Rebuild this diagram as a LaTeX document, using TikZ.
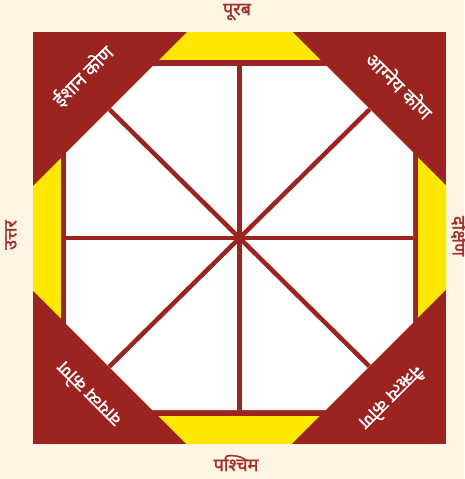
\documentclass[tikz,border=0pt]{standalone}
\usepackage{fontspec}
\newfontfamily\deva[Script=Devanagari]{Noto Sans}
\newfontfamily\devab[Script=Devanagari, FakeBold=1.6]{Noto Sans}
\newfontfamily\devam[Script=Devanagari, FakeBold=0.6]{Noto Sans}
\definecolor{vred}{HTML}{9C2420}
\definecolor{vyel}{HTML}{FFE800}
\definecolor{bgc}{HTML}{FDF4E4}
\definecolor{lbl}{HTML}{A0302B}
\tikzset{
  dirlabel/.style={text=lbl, font=\devab\fontsize{18}{18}\selectfont, inner sep=0pt},
  cornerlabel/.style={text=white, font=\devam\fontsize{19}{19}\selectfont, inner sep=0pt},
  spoke/.style={draw=vred, line width=4.5pt},
}
\begin{document}
\begin{tikzpicture}[x=1pt,y=-1pt]
\useasboundingbox (0,0) rectangle (464,479);
\fill[bgc] (0,0) rectangle (464,479);
\fill[vred] (33,32) rectangle (446,444);
\fill[vyel] (187,32) -- (292.5,32) -- (446,185.5) -- (446,289.5) -- (291.5,444) -- (186.5,444) -- (33,290.5) -- (33,186) -- cycle;
\draw[vred, line width=5.5pt] (63.5,63) rectangle (415.5,413);
\fill[white] (153,66) -- (326.5,66) -- (413,152.5) -- (413,322.5) -- (325.5,410) -- (152.5,410) -- (66,323.5) -- (66,153) -- cycle;
% spoke ends
\coordinate (n) at (239.5,66);
\coordinate (s) at (239.5,410);
\coordinate (w) at (66,238);
\coordinate (e) at (413,238);
\coordinate (nw) at (109.5,109.5);
\coordinate (se) at (369.25,366.25);
\coordinate (ne) at (369.75,109.25);
\coordinate (sw) at (109.25,366.75);
\draw[spoke] (n) -- (s);
\draw[spoke] (w) -- (e);
\draw[spoke] (nw) -- (se);
\draw[spoke] (ne) -- (sw);
% direction labels
\node[dirlabel] (east) at (237,12) {पूरब};
\node[dirlabel] (west) at (236,463) {पश्चिम};
\node[dirlabel, rotate=90] (north) at (11,235) {उत्तर};
\node[dirlabel, rotate=-90] (south) at (460,236) {दक्षिण};
% corner labels
\node[cornerlabel, rotate=45] (ishan) at (83,76) {ईशान कोण};
\node[cornerlabel, rotate=-45] (agney) at (400,85) {आग्नेय कोण};
\node[cornerlabel, rotate=135] (vayavya) at (88,395) {वायव्य कोण};
\node[cornerlabel, rotate=-135] (nairitya) at (392,398) {नैऋत्य कोण};
\end{tikzpicture}
\end{document}
